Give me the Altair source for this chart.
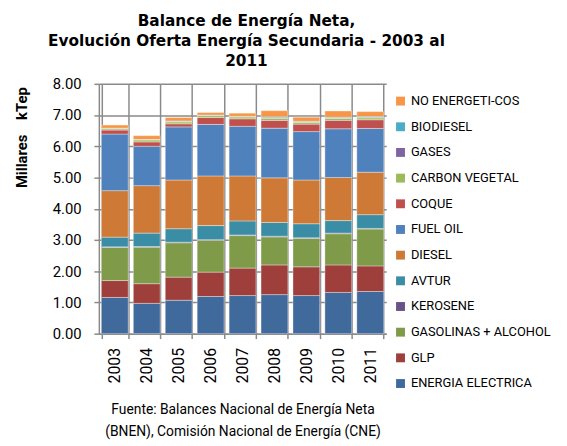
import altair as alt
import pandas as pd

years = ["2003", "2004", "2005", "2006", "2007", "2008", "2009", "2010", "2011"]

series = [
    "ENERGIA ELECTRICA", "GLP", "GASOLINAS + ALCOHOL", "KEROSENE", "AVTUR",
    "DIESEL", "FUEL OIL", "COQUE", "CARBON VEGETAL", "GASES", "BIODIESEL",
    "NO ENERGETI-COS",
]

energia_electrica = [1.16, 0.97, 1.07, 1.19, 1.22, 1.25, 1.22, 1.32, 1.35]
glp = [0.54, 0.63, 0.74, 0.78, 0.88, 0.95, 0.92, 0.88, 0.82]
gasolinas = [1.06, 1.17, 1.10, 1.02, 1.04, 0.90, 0.91, 1.00, 1.18]
kerosene = [0.02, 0.02, 0.02, 0.02, 0.02, 0.02, 0.02, 0.02, 0.02]
avtur = [0.31, 0.43, 0.43, 0.45, 0.45, 0.44, 0.45, 0.40, 0.44]
diesel = [1.49, 1.52, 1.56, 1.59, 1.44, 1.43, 1.40, 1.38, 1.36]
fuel_oil = [1.81, 1.26, 1.70, 1.65, 1.59, 1.59, 1.55, 1.56, 1.40]
coque = [0.13, 0.14, 0.10, 0.22, 0.24, 0.25, 0.24, 0.27, 0.28]
carbon_vegetal = [0.04, 0.06, 0.06, 0.06, 0.06, 0.06, 0.06, 0.06, 0.06]
gases = [0.02, 0.02, 0.02, 0.01, 0.01, 0.02, 0.01, 0.01, 0.01]
biodiesel = [0.00, 0.00, 0.01, 0.01, 0.01, 0.03, 0.02, 0.03, 0.03]
no_energeticos = [0.10, 0.12, 0.11, 0.08, 0.10, 0.20, 0.13, 0.20, 0.16]

colors = [
    "#40699C", "#9F3F3C", "#7F9A48", "#6A5186", "#3A8DA4", "#CE7A36",
    "#4F81BD", "#C0504D", "#9BBB59", "#8064A2", "#4BACC6", "#F79646",
]

values = [energia_electrica, glp, gasolinas, kerosene, avtur, diesel, fuel_oil,
          coque, carbon_vegetal, gases, biodiesel, no_energeticos]

rows = []
for i, (name, vals) in enumerate(zip(series, values)):
    for y, v in zip(years, vals):
        rows.append({"year": y, "serie": name, "valor": v, "idx": i})
df = pd.DataFrame(rows)

NARROW = "Roboto"
GRID = "#8a8a8a"

chart = alt.Chart(df).mark_bar(stroke="white", strokeWidth=0.6, strokeOpacity=0.6).encode(
    x=alt.X("year:N", sort=years,
            scale=alt.Scale(paddingInner=0.16, paddingOuter=0.08),
            axis=alt.Axis(
                title=["Fuente: Balances Nacional de Energía Neta",
                       "(BNEN), Comisión Nacional de Energía (CNE)"],
                titleFont=NARROW, titleFontSize=14, titleFontWeight="normal",
                titleColor="#000", titlePadding=20, titleLineHeight=22,
                labelAngle=270, labelFont=NARROW, labelFontSize=16,
                labelColor="#000", labelPadding=9,
                tickBand="extent", tickSize=5, tickColor=GRID, tickWidth=1.5,
                grid=True, gridColor=GRID, gridWidth=1.5,
                domainColor=GRID, domainWidth=1.5,
            )),
    y=alt.Y("sum(valor):Q",
            scale=alt.Scale(domain=[0, 8], nice=False),
            axis=alt.Axis(
                title="Millares\u00a0\u00a0\u00a0\u00a0kTep",
                titleFont=NARROW, titleFontSize=15, titleFontWeight="bold",
                titleColor="#000", titleAngle=270, titleAlign="center",
                titleBaseline="middle", titleX=-78, titleY=54,
                values=[0, 1, 2, 3, 4, 5, 6, 7, 8], format=".2f",
                labelFont=NARROW, labelFontSize=15, labelColor="#000",
                labelPadding=13, tickSize=5, tickColor=GRID, tickWidth=1.5,
                grid=True, gridColor=GRID, gridWidth=1.5,
                domainColor=GRID, domainWidth=1.5,
            )),
    color=alt.Color("serie:N",
                    scale=alt.Scale(domain=series[::-1], range=colors[::-1]),
                    legend=alt.Legend(
                        title=None, orient="none", legendX=299, legendY=11,
                        labelFont=NARROW, labelFontSize=13, labelColor="#000",
                        symbolType="square", symbolSize=81, symbolStrokeWidth=0,
                        rowPadding=12, labelOffset=4, labelLimit=300,
                    )),
    order=alt.Order("idx:Q", sort="ascending"),
).properties(
    width=291,
    height=253,
    autosize=alt.AutoSizeParams(type="none"),
    padding={"left": 92, "top": 74, "right": 175, "bottom": 112},
    title=alt.TitleParams(
        text=["Balance de Energía Neta,",
              "Evolución Oferta Energía Secundaria - 2003 al",
              "2011"],
        font="DejaVu Sans", fontSize=15.5, fontWeight="bold", color="#000",
        anchor="middle", frame="group", offset=8, lineHeight=20, dx=4,
    ),
).configure_view(strokeWidth=0)

chart.save("out.html", embed_options={"renderer": "svg", "actions": False})
